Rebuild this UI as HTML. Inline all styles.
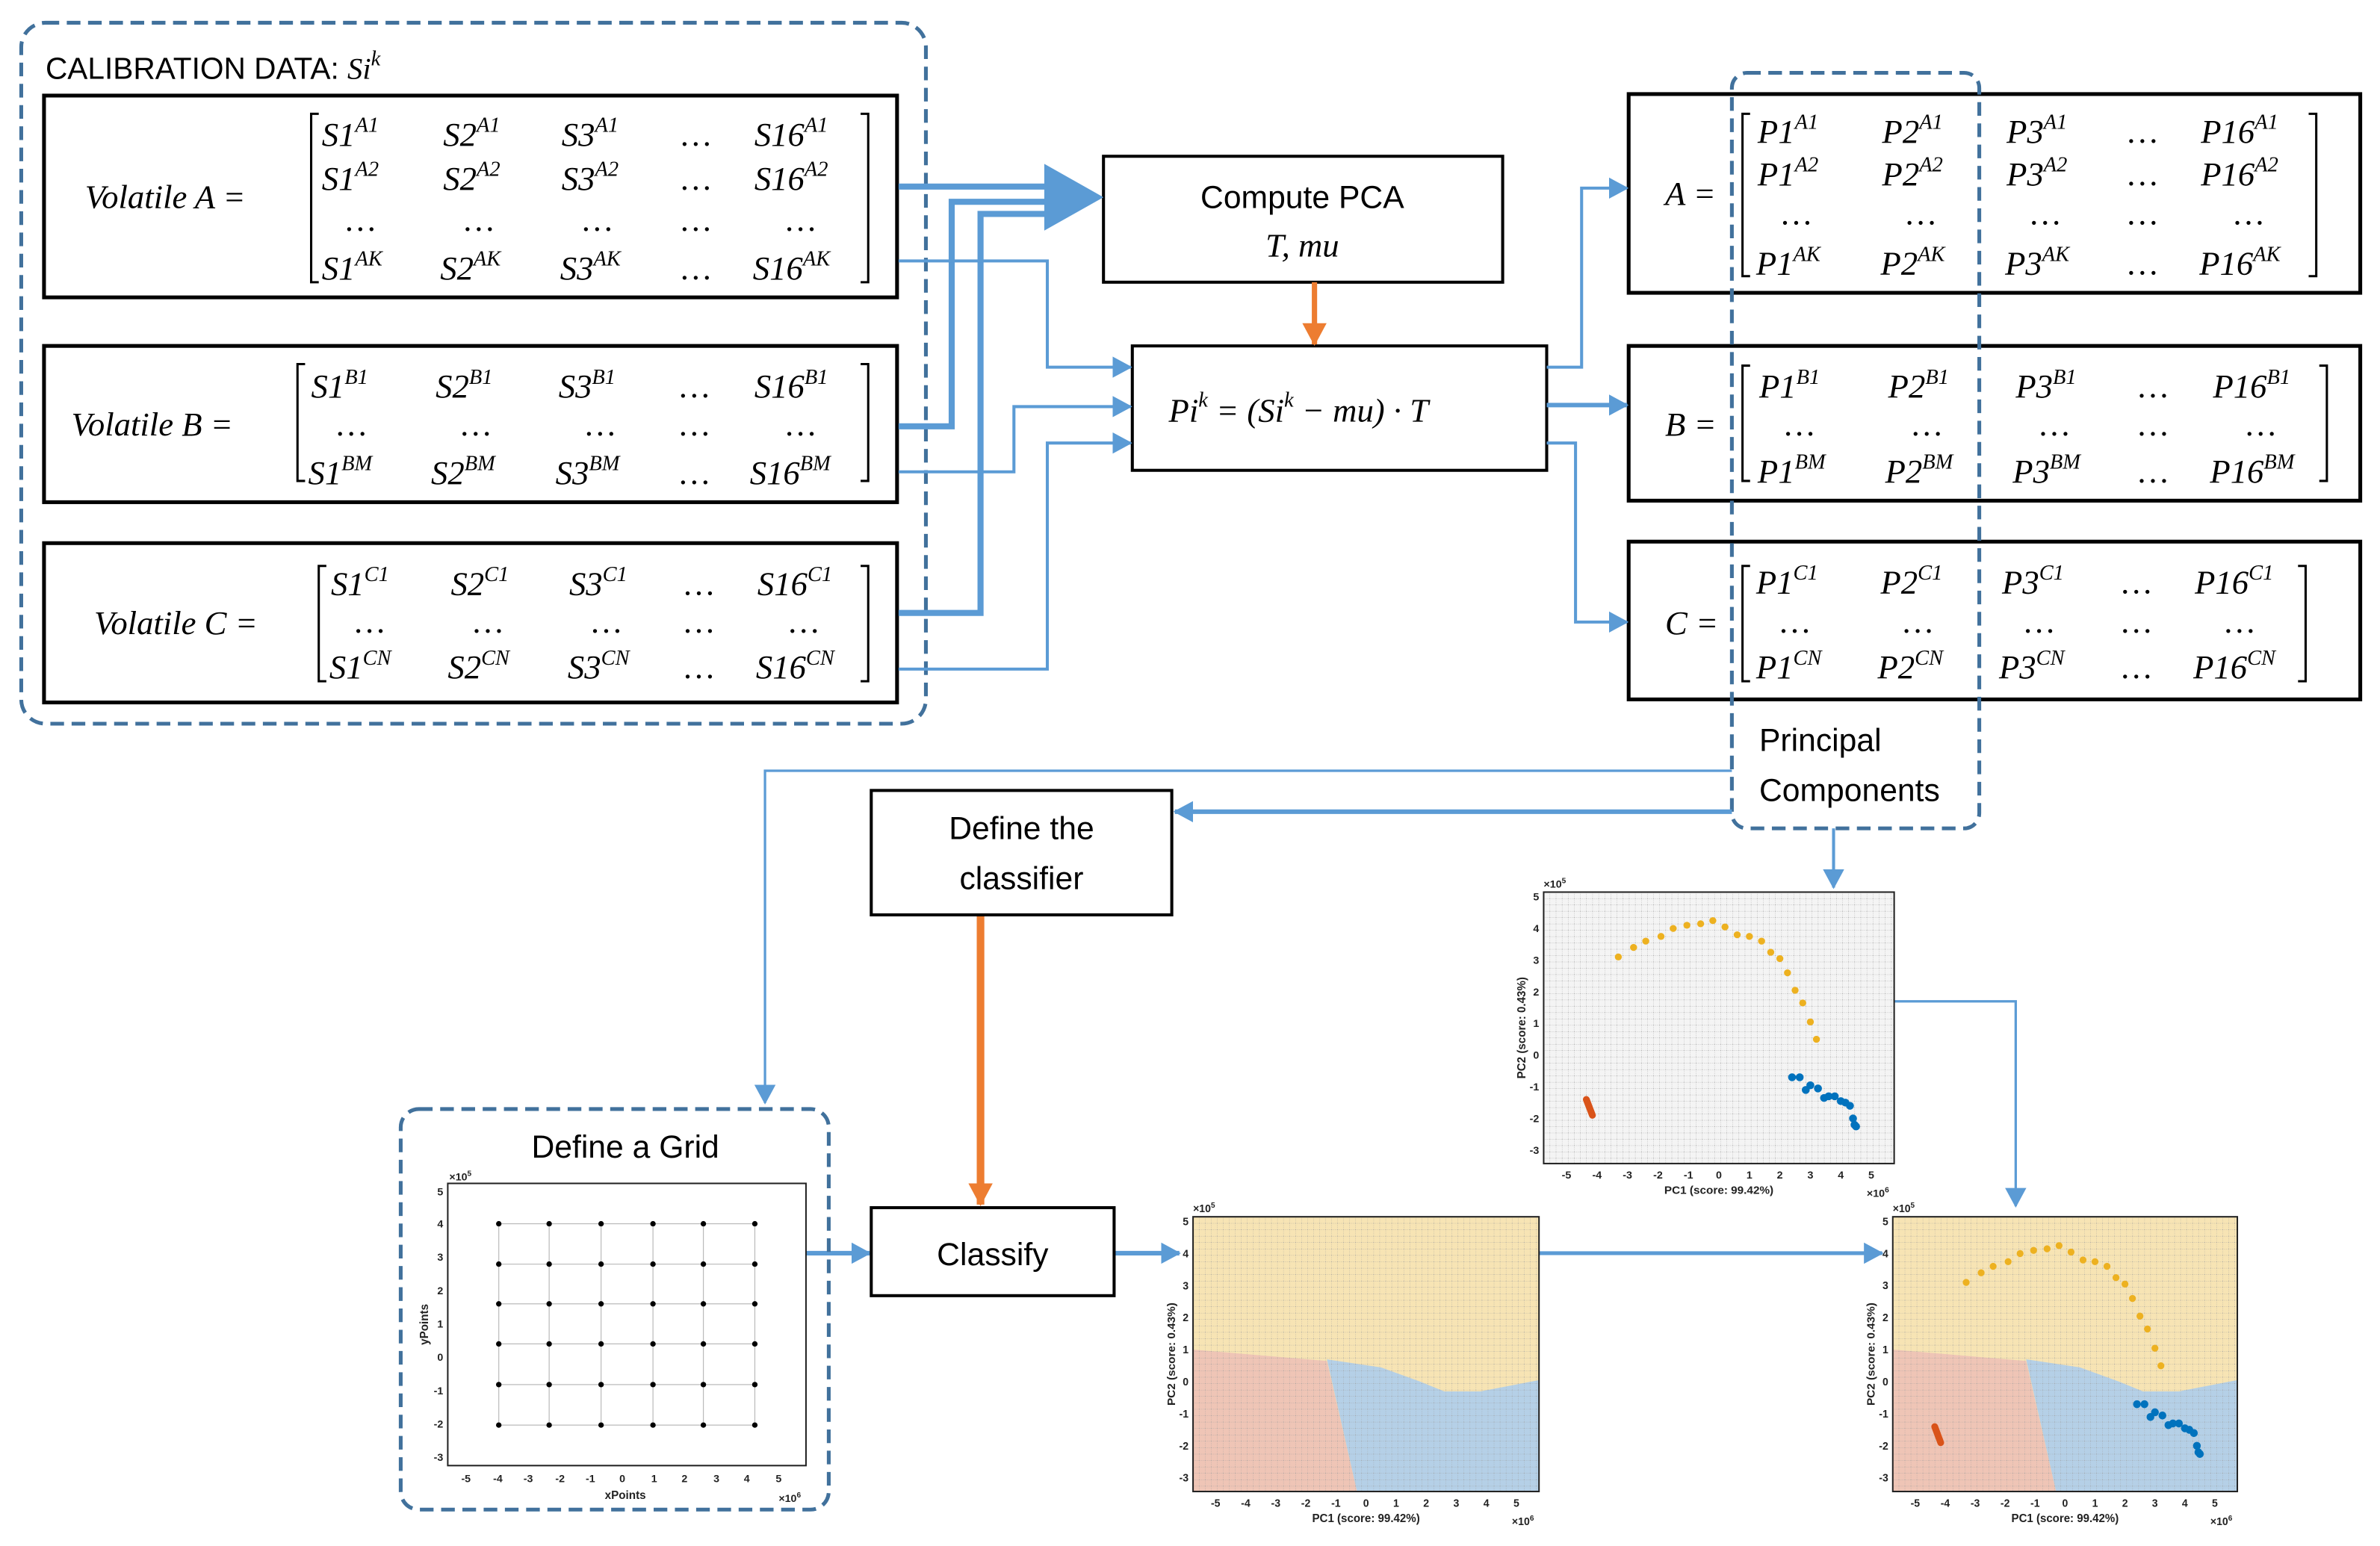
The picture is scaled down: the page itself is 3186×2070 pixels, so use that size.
<!DOCTYPE html>
<html><head><meta charset="utf-8"><style>
html,body{margin:0;padding:0;background:#fff;}
svg{display:block}
.m{font-family:"Liberation Serif",serif;font-style:italic;font-size:22px;fill:#000}
.s{font-size:14px}
.c{font-family:"Liberation Sans",sans-serif;fill:#000}
.tk{font-family:"Liberation Sans",sans-serif;font-size:7px;fill:#222;font-weight:bold}
.lb{font-family:"Liberation Sans",sans-serif;font-size:7.5px;fill:#222;font-weight:bold}
</style></head><body>
<svg width="3186" height="2070" viewBox="0 0 1568 1019" preserveAspectRatio="none" xmlns="http://www.w3.org/2000/svg">
<defs>
<marker id="ab" markerUnits="userSpaceOnUse" markerWidth="14" markerHeight="14" refX="12" refY="7" orient="auto"><path d="M0,0 L13,7 L0,14 Z" fill="#5b9bd5"/></marker>
<marker id="ao" markerUnits="userSpaceOnUse" markerWidth="16" markerHeight="16" refX="14" refY="8" orient="auto"><path d="M0,0 L15,8 L0,16 Z" fill="#ed7d31"/></marker>
<pattern id="gp" patternUnits="userSpaceOnUse" width="4" height="4.2"><path d="M0,0 H4 M0,0 V4.2" stroke="#9a9a9a" stroke-width="0.35" stroke-dasharray="0.6 0.6" fill="none"/></pattern>
</defs>
<rect width="1568" height="1019" fill="#fff"/>

<!-- calibration dashed box -->
<rect x="14" y="15" width="596" height="462" rx="16" fill="none" stroke="#41719c" stroke-width="2.5" stroke-dasharray="9 5"/>
<text x="30" y="52" class="c" font-size="20">CALIBRATION DATA: <tspan font-family="Liberation Serif" font-style="italic">Si</tspan><tspan font-family="Liberation Serif" font-style="italic" font-size="14" dy="-9">k</tspan></text>

<g fill="none" stroke="#000" stroke-width="2.5">
<rect x="29" y="63" width="562" height="133"/>
<rect x="29" y="228" width="562" height="103"/>
<rect x="29" y="358" width="562" height="105"/>
<rect x="1073" y="62" width="482" height="131"/>
<rect x="1073" y="228" width="482" height="102"/>
<rect x="1073" y="357" width="482" height="104"/>
</g>
<g fill="none" stroke="#000" stroke-width="1.5">
<path d="M210,75 H205 V186 H210"/><path d="M567,75 H572 V186 H567"/>
<path d="M201,240 H196 V317 H201"/><path d="M567,240 H572 V317 H567"/>
<path d="M215,373 H210 V449 H215"/><path d="M567,373 H572 V449 H567"/>
<path d="M1153,75 H1148 V182 H1153"/><path d="M1521,75 H1526 V182 H1521"/>
<path d="M1153,241 H1148 V317 H1153"/><path d="M1528,241 H1533 V317 H1528"/>
<path d="M1153,373 H1148 V449 H1153"/><path d="M1514,373 H1519 V449 H1514"/>
</g>

<!-- Volatile A -->
<text x="56" y="137" class="m">Volatile A =</text>
<text class="m" y="96"><tspan x="212">S1</tspan><tspan class="s" dy="-9">A1</tspan><tspan x="292" dy="9">S2</tspan><tspan class="s" dy="-9">A1</tspan><tspan x="370" dy="9">S3</tspan><tspan class="s" dy="-9">A1</tspan><tspan x="449" dy="9">…</tspan><tspan x="497">S16</tspan><tspan class="s" dy="-9">A1</tspan></text>
<text class="m" y="125"><tspan x="212">S1</tspan><tspan class="s" dy="-9">A2</tspan><tspan x="292" dy="9">S2</tspan><tspan class="s" dy="-9">A2</tspan><tspan x="370" dy="9">S3</tspan><tspan class="s" dy="-9">A2</tspan><tspan x="449" dy="9">…</tspan><tspan x="497">S16</tspan><tspan class="s" dy="-9">A2</tspan></text>
<text class="m" y="152"><tspan x="228">…</tspan><tspan x="306">…</tspan><tspan x="384">…</tspan><tspan x="449">…</tspan><tspan x="518">…</tspan></text>
<text class="m" y="184"><tspan x="212">S1</tspan><tspan class="s" dy="-9">AK</tspan><tspan x="290" dy="9">S2</tspan><tspan class="s" dy="-9">AK</tspan><tspan x="369" dy="9">S3</tspan><tspan class="s" dy="-9">AK</tspan><tspan x="449" dy="9">…</tspan><tspan x="496">S16</tspan><tspan class="s" dy="-9">AK</tspan></text>

<!-- Volatile B -->
<text x="47" y="287" class="m">Volatile B =</text>
<text class="m" y="262"><tspan x="205">S1</tspan><tspan class="s" dy="-9">B1</tspan><tspan x="287" dy="9">S2</tspan><tspan class="s" dy="-9">B1</tspan><tspan x="368" dy="9">S3</tspan><tspan class="s" dy="-9">B1</tspan><tspan x="448" dy="9">…</tspan><tspan x="497">S16</tspan><tspan class="s" dy="-9">B1</tspan></text>
<text class="m" y="287"><tspan x="222">…</tspan><tspan x="304">…</tspan><tspan x="386">…</tspan><tspan x="448">…</tspan><tspan x="518">…</tspan></text>
<text class="m" y="319"><tspan x="203">S1</tspan><tspan class="s" dy="-9">BM</tspan><tspan x="284" dy="9">S2</tspan><tspan class="s" dy="-9">BM</tspan><tspan x="366" dy="9">S3</tspan><tspan class="s" dy="-9">BM</tspan><tspan x="448" dy="9">…</tspan><tspan x="494">S16</tspan><tspan class="s" dy="-9">BM</tspan></text>

<!-- Volatile C -->
<text x="62" y="418" class="m">Volatile C =</text>
<text class="m" y="392"><tspan x="218">S1</tspan><tspan class="s" dy="-9">C1</tspan><tspan x="297" dy="9">S2</tspan><tspan class="s" dy="-9">C1</tspan><tspan x="375" dy="9">S3</tspan><tspan class="s" dy="-9">C1</tspan><tspan x="451" dy="9">…</tspan><tspan x="499">S16</tspan><tspan class="s" dy="-9">C1</tspan></text>
<text class="m" y="417"><tspan x="234">…</tspan><tspan x="312">…</tspan><tspan x="390">…</tspan><tspan x="451">…</tspan><tspan x="520">…</tspan></text>
<text class="m" y="447"><tspan x="217">S1</tspan><tspan class="s" dy="-9">CN</tspan><tspan x="295" dy="9">S2</tspan><tspan class="s" dy="-9">CN</tspan><tspan x="374" dy="9">S3</tspan><tspan class="s" dy="-9">CN</tspan><tspan x="451" dy="9">…</tspan><tspan x="498">S16</tspan><tspan class="s" dy="-9">CN</tspan></text>

<!-- Right A -->
<text x="1097" y="135" class="m">A =</text>
<text class="m" y="94"><tspan x="1158">P1</tspan><tspan class="s" dy="-9">A1</tspan><tspan x="1240" dy="9">P2</tspan><tspan class="s" dy="-9">A1</tspan><tspan x="1322" dy="9">P3</tspan><tspan class="s" dy="-9">A1</tspan><tspan x="1402" dy="9">…</tspan><tspan x="1450">P16</tspan><tspan class="s" dy="-9">A1</tspan></text>
<text class="m" y="122"><tspan x="1158">P1</tspan><tspan class="s" dy="-9">A2</tspan><tspan x="1240" dy="9">P2</tspan><tspan class="s" dy="-9">A2</tspan><tspan x="1322" dy="9">P3</tspan><tspan class="s" dy="-9">A2</tspan><tspan x="1402" dy="9">…</tspan><tspan x="1450">P16</tspan><tspan class="s" dy="-9">A2</tspan></text>
<text class="m" y="148"><tspan x="1174">…</tspan><tspan x="1256">…</tspan><tspan x="1338">…</tspan><tspan x="1402">…</tspan><tspan x="1472">…</tspan></text>
<text class="m" y="181"><tspan x="1157">P1</tspan><tspan class="s" dy="-9">AK</tspan><tspan x="1239" dy="9">P2</tspan><tspan class="s" dy="-9">AK</tspan><tspan x="1321" dy="9">P3</tspan><tspan class="s" dy="-9">AK</tspan><tspan x="1402" dy="9">…</tspan><tspan x="1449">P16</tspan><tspan class="s" dy="-9">AK</tspan></text>

<!-- Right B -->
<text x="1097" y="287" class="m">B =</text>
<text class="m" y="262"><tspan x="1159">P1</tspan><tspan class="s" dy="-9">B1</tspan><tspan x="1244" dy="9">P2</tspan><tspan class="s" dy="-9">B1</tspan><tspan x="1328" dy="9">P3</tspan><tspan class="s" dy="-9">B1</tspan><tspan x="1409" dy="9">…</tspan><tspan x="1458">P16</tspan><tspan class="s" dy="-9">B1</tspan></text>
<text class="m" y="287"><tspan x="1176">…</tspan><tspan x="1260">…</tspan><tspan x="1344">…</tspan><tspan x="1409">…</tspan><tspan x="1480">…</tspan></text>
<text class="m" y="318"><tspan x="1158">P1</tspan><tspan class="s" dy="-9">BM</tspan><tspan x="1242" dy="9">P2</tspan><tspan class="s" dy="-9">BM</tspan><tspan x="1326" dy="9">P3</tspan><tspan class="s" dy="-9">BM</tspan><tspan x="1409" dy="9">…</tspan><tspan x="1456">P16</tspan><tspan class="s" dy="-9">BM</tspan></text>

<!-- Right C -->
<text x="1097" y="418" class="m">C =</text>
<text class="m" y="391"><tspan x="1157">P1</tspan><tspan class="s" dy="-9">C1</tspan><tspan x="1239" dy="9">P2</tspan><tspan class="s" dy="-9">C1</tspan><tspan x="1319" dy="9">P3</tspan><tspan class="s" dy="-9">C1</tspan><tspan x="1398" dy="9">…</tspan><tspan x="1446">P16</tspan><tspan class="s" dy="-9">C1</tspan></text>
<text class="m" y="417"><tspan x="1173">…</tspan><tspan x="1254">…</tspan><tspan x="1334">…</tspan><tspan x="1398">…</tspan><tspan x="1466">…</tspan></text>
<text class="m" y="447"><tspan x="1157">P1</tspan><tspan class="s" dy="-9">CN</tspan><tspan x="1237" dy="9">P2</tspan><tspan class="s" dy="-9">CN</tspan><tspan x="1317" dy="9">P3</tspan><tspan class="s" dy="-9">CN</tspan><tspan x="1398" dy="9">…</tspan><tspan x="1445">P16</tspan><tspan class="s" dy="-9">CN</tspan></text>

<!-- Principal components dashed -->
<rect x="1141" y="48" width="163" height="498" rx="10" fill="none" stroke="#41719c" stroke-width="2.5" stroke-dasharray="9 5"/>
<text x="1159" y="495" class="c" font-size="21">Principal</text>
<text x="1159" y="528" class="c" font-size="21">Components</text>

<!-- Compute PCA and Pi boxes -->
<rect x="727" y="103" width="263" height="83" fill="#fff" stroke="#000" stroke-width="2"/>
<text x="858" y="137" class="c" font-size="21" text-anchor="middle">Compute PCA</text>
<text x="858" y="169" class="m" text-anchor="middle">T, mu</text>
<rect x="746" y="228" width="273" height="82" fill="#fff" stroke="#000" stroke-width="2"/>
<text x="770" y="278" class="m">Pi<tspan class="s" dy="-10">k</tspan><tspan dy="10"> = (Si</tspan><tspan class="s" dy="-10">k</tspan><tspan dy="10"> − mu) · T</tspan></text>
<line x1="866" y1="186" x2="866" y2="227" stroke="#ed7d31" stroke-width="3.5" marker-end="url(#ao)"/>

<!-- thick input arrows -->
<g fill="none" stroke="#5b9bd5" stroke-width="4">
<path d="M592,123 H700"/>
<path d="M592,281 H627 V133 H700"/>
<path d="M592,404 H646 V141 H700"/>
</g>
<path d="M688,108 L727,130 L688,152 Z" fill="#5b9bd5"/>
<!-- thin input arrows -->
<g fill="none" stroke="#5b9bd5" stroke-width="2">
<path d="M592,172 H690 V242 H745" marker-end="url(#ab)"/>
<path d="M592,311 H668 V268 H745" marker-end="url(#ab)"/>
<path d="M592,441 H690 V292 H745" marker-end="url(#ab)"/>
<path d="M1019,242 H1042 V124 H1072" marker-end="url(#ab)"/>
<path d="M1019,292 H1038 V410 H1072" marker-end="url(#ab)"/>
</g>
<line x1="1019" y1="267" x2="1072" y2="267" stroke="#5b9bd5" stroke-width="3" marker-end="url(#ab)"/>

<!-- lower connectors -->
<g fill="none" stroke="#5b9bd5">
<path d="M1141,508 H504 V727" stroke-width="1.6" marker-end="url(#ab)"/>
<path d="M1141,535 H774" stroke-width="3" marker-end="url(#ab)"/>
<path d="M1208,546 V585" stroke-width="2" marker-end="url(#ab)"/>
<path d="M1240,660 H1328 V795" stroke-width="1.6" marker-end="url(#ab)"/>
<path d="M530,826 H573" stroke-width="3" marker-end="url(#ab)"/>
<path d="M734,826 H777" stroke-width="3" marker-end="url(#ab)"/>
<path d="M1014,826 H1240" stroke-width="2.5" marker-end="url(#ab)"/>
</g>
<line x1="646" y1="603" x2="646" y2="794" stroke="#ed7d31" stroke-width="5" marker-end="url(#ao)"/>

<rect x="574" y="521" width="198" height="82" fill="#fff" stroke="#000" stroke-width="2"/>
<text x="673" y="553" class="c" font-size="21" text-anchor="middle">Define the</text>
<text x="673" y="586" class="c" font-size="21" text-anchor="middle">classifier</text>
<rect x="574" y="796" width="160" height="58" fill="#fff" stroke="#000" stroke-width="2"/>
<text x="654" y="834" class="c" font-size="21" text-anchor="middle">Classify</text>

<!-- Define a Grid -->
<rect x="264" y="731" width="282" height="264" rx="12" fill="none" stroke="#41719c" stroke-width="2.5" stroke-dasharray="9 5"/>
<text x="412" y="763" class="c" font-size="21" text-anchor="middle" fill="#333">Define a Grid</text>
<g>
<rect x="295" y="780" width="236" height="186" fill="#fff" stroke="#222" stroke-width="1"/>
<g stroke="#bbb" stroke-width="0.6">
<path d="M328.6,806.6 V939.3 M361.8,806.6 V939.3 M396,806.6 V939.3 M430.2,806.6 V939.3 M463.4,806.6 V939.3 M497.3,806.6 V939.3"/>
<path d="M328.6,806.6 H497.3 M328.6,833.2 H497.3 M328.6,859.4 H497.3 M328.6,885.8 H497.3 M328.6,912.6 H497.3 M328.6,939.3 H497.3"/>
</g>
<g fill="#000">
<circle cx="328.6" cy="806.6" r="1.8"/><circle cx="361.8" cy="806.6" r="1.8"/><circle cx="396" cy="806.6" r="1.8"/><circle cx="430.2" cy="806.6" r="1.8"/><circle cx="463.4" cy="806.6" r="1.8"/><circle cx="497.3" cy="806.6" r="1.8"/>
<circle cx="328.6" cy="833.2" r="1.8"/><circle cx="361.8" cy="833.2" r="1.8"/><circle cx="396" cy="833.2" r="1.8"/><circle cx="430.2" cy="833.2" r="1.8"/><circle cx="463.4" cy="833.2" r="1.8"/><circle cx="497.3" cy="833.2" r="1.8"/>
<circle cx="328.6" cy="859.4" r="1.8"/><circle cx="361.8" cy="859.4" r="1.8"/><circle cx="396" cy="859.4" r="1.8"/><circle cx="430.2" cy="859.4" r="1.8"/><circle cx="463.4" cy="859.4" r="1.8"/><circle cx="497.3" cy="859.4" r="1.8"/>
<circle cx="328.6" cy="885.8" r="1.8"/><circle cx="361.8" cy="885.8" r="1.8"/><circle cx="396" cy="885.8" r="1.8"/><circle cx="430.2" cy="885.8" r="1.8"/><circle cx="463.4" cy="885.8" r="1.8"/><circle cx="497.3" cy="885.8" r="1.8"/>
<circle cx="328.6" cy="912.6" r="1.8"/><circle cx="361.8" cy="912.6" r="1.8"/><circle cx="396" cy="912.6" r="1.8"/><circle cx="430.2" cy="912.6" r="1.8"/><circle cx="463.4" cy="912.6" r="1.8"/><circle cx="497.3" cy="912.6" r="1.8"/>
<circle cx="328.6" cy="939.3" r="1.8"/><circle cx="361.8" cy="939.3" r="1.8"/><circle cx="396" cy="939.3" r="1.8"/><circle cx="430.2" cy="939.3" r="1.8"/><circle cx="463.4" cy="939.3" r="1.8"/><circle cx="497.3" cy="939.3" r="1.8"/>
</g>
<g class="tk" text-anchor="middle">
<text x="307" y="977">-5</text><text x="328" y="977">-4</text><text x="348" y="977">-3</text><text x="369" y="977">-2</text><text x="389" y="977">-1</text><text x="410" y="977">0</text><text x="431" y="977">1</text><text x="451" y="977">2</text><text x="472" y="977">3</text><text x="492" y="977">4</text><text x="513" y="977">5</text>
</g>
<g class="tk" text-anchor="end">
<text x="292" y="788">5</text><text x="292" y="809">4</text><text x="292" y="831">3</text><text x="292" y="853">2</text><text x="292" y="875">1</text><text x="292" y="897">0</text><text x="292" y="919">-1</text><text x="292" y="941">-2</text><text x="292" y="963">-3</text>
</g>
<text x="412" y="988" class="lb" text-anchor="middle">xPoints</text>
<text x="282" y="873" class="lb" text-anchor="middle" transform="rotate(-90 282 873)">yPoints</text>
<text x="296" y="778" class="tk">×10<tspan font-size="5" dy="-3">5</tspan></text>
<text x="513" y="990" class="tk">×10<tspan font-size="5" dy="-3">6</tspan></text>
</g>

<!-- Top scatter plot -->
<g transform="translate(1017,588) scale(1.004,0.994)">
<rect width="230" height="180" fill="#f4f4f4"/>
<rect width="230" height="180" fill="url(#gp)"/>
<g fill="#edb120">
<circle cx="49" cy="43" r="2.3"/><circle cx="59" cy="36.7" r="2.3"/><circle cx="67" cy="32.5" r="2.3"/><circle cx="77" cy="29.4" r="2.3"/><circle cx="85" cy="24.1" r="2.3"/><circle cx="94" cy="22" r="2.3"/><circle cx="103" cy="21" r="2.3"/><circle cx="111" cy="18.9" r="2.3"/><circle cx="119" cy="23.1" r="2.3"/><circle cx="127" cy="28.3" r="2.3"/><circle cx="135" cy="29.4" r="2.3"/><circle cx="143" cy="32.5" r="2.3"/><circle cx="149" cy="39.9" r="2.3"/><circle cx="155" cy="44.1" r="2.3"/><circle cx="160" cy="53.5" r="2.3"/><circle cx="165" cy="65.1" r="2.3"/><circle cx="170" cy="73.5" r="2.3"/><circle cx="175" cy="86.1" r="2.3"/><circle cx="179" cy="97.6" r="2.3"/>
</g>
<g fill="#0072bd">
<circle cx="163" cy="122.8" r="2.6"/><circle cx="168" cy="122.8" r="2.6"/><circle cx="172" cy="131.2" r="2.6"/><circle cx="175" cy="128.1" r="2.6"/><circle cx="180" cy="130.2" r="2.6"/><circle cx="184" cy="136.5" r="2.6"/><circle cx="187" cy="135.4" r="2.6"/><circle cx="191" cy="135.4" r="2.6"/><circle cx="195" cy="138.6" r="2.6"/><circle cx="198" cy="139.6" r="2.6"/><circle cx="201" cy="141.7" r="2.6"/><circle cx="203" cy="150.1" r="2.6"/><circle cx="204" cy="154.3" r="2.6"/><circle cx="205" cy="155.4" r="2.6"/>
</g>
<line x1="28" y1="137.5" x2="32" y2="148" stroke="#d95319" stroke-width="4.5" stroke-linecap="round"/>
<rect width="230" height="180" fill="none" stroke="#222" stroke-width="1"/>
<g class="tk" text-anchor="middle"><text x="15" y="190">-5</text><text x="35" y="190">-4</text><text x="55" y="190">-3</text><text x="75" y="190">-2</text><text x="95" y="190">-1</text><text x="115" y="190">0</text><text x="135" y="190">1</text><text x="155" y="190">2</text><text x="175" y="190">3</text><text x="195" y="190">4</text><text x="215" y="190">5</text></g>
<g class="tk" text-anchor="end"><text x="-3" y="5.5">5</text><text x="-3" y="26.5">4</text><text x="-3" y="47.5">3</text><text x="-3" y="68.5">2</text><text x="-3" y="89.5">1</text><text x="-3" y="110.5">0</text><text x="-3" y="131.5">-1</text><text x="-3" y="152.5">-2</text><text x="-3" y="173.5">-3</text></g>
<text x="115" y="200" class="lb" text-anchor="middle">PC1 (score: 99.42%)</text>
<text x="-12" y="90" class="lb" text-anchor="middle" transform="rotate(-90 -12 90)">PC2 (score: 0.43%)</text>
<text x="0" y="-3" class="tk">×10<tspan font-size="5" dy="-3">5</tspan></text>
<text x="212" y="202" class="tk">×10<tspan font-size="5" dy="-3">6</tspan></text>
</g>

<!-- Middle classified plot -->
<g transform="translate(786,802) scale(0.991,1.006)">
<rect width="230" height="180" fill="#f7e4b4"/>
<polygon points="0,87 89,94.5 109,180 0,180" fill="#efc5b6"/>
<polygon points="89,93.4 125,98.7 151,108 167,114.4 191,114.4 230,107 230,180 109,180" fill="#b5d0e7"/>
<rect width="230" height="180" fill="url(#gp)"/>
<rect width="230" height="180" fill="none" stroke="#222" stroke-width="1"/>
<g class="tk" text-anchor="middle"><text x="15" y="190">-5</text><text x="35" y="190">-4</text><text x="55" y="190">-3</text><text x="75" y="190">-2</text><text x="95" y="190">-1</text><text x="115" y="190">0</text><text x="135" y="190">1</text><text x="155" y="190">2</text><text x="175" y="190">3</text><text x="195" y="190">4</text><text x="215" y="190">5</text></g>
<g class="tk" text-anchor="end"><text x="-3" y="5.5">5</text><text x="-3" y="26.5">4</text><text x="-3" y="47.5">3</text><text x="-3" y="68.5">2</text><text x="-3" y="89.5">1</text><text x="-3" y="110.5">0</text><text x="-3" y="131.5">-1</text><text x="-3" y="152.5">-2</text><text x="-3" y="173.5">-3</text></g>
<text x="115" y="200" class="lb" text-anchor="middle">PC1 (score: 99.42%)</text>
<text x="-12" y="90" class="lb" text-anchor="middle" transform="rotate(-90 -12 90)">PC2 (score: 0.43%)</text>
<text x="0" y="-3" class="tk">×10<tspan font-size="5" dy="-3">5</tspan></text>
<text x="212" y="202" class="tk">×10<tspan font-size="5" dy="-3">6</tspan></text>
</g>

<!-- Right classified plot -->
<g transform="translate(1247,802) scale(0.987,1.006)">
<rect width="230" height="180" fill="#f7e4b4"/>
<polygon points="0,87 89,94.5 109,180 0,180" fill="#efc5b6"/>
<polygon points="89,93.4 125,98.7 151,108 167,114.4 191,114.4 230,107 230,180 109,180" fill="#b5d0e7"/>
<rect width="230" height="180" fill="url(#gp)"/>
<g fill="#edb120">
<circle cx="49" cy="43" r="2.3"/><circle cx="59" cy="36.7" r="2.3"/><circle cx="67" cy="32.5" r="2.3"/><circle cx="77" cy="29.4" r="2.3"/><circle cx="85" cy="24.1" r="2.3"/><circle cx="94" cy="22" r="2.3"/><circle cx="103" cy="21" r="2.3"/><circle cx="111" cy="18.9" r="2.3"/><circle cx="119" cy="23.1" r="2.3"/><circle cx="127" cy="28.3" r="2.3"/><circle cx="135" cy="29.4" r="2.3"/><circle cx="143" cy="32.5" r="2.3"/><circle cx="149" cy="39.9" r="2.3"/><circle cx="155" cy="44.1" r="2.3"/><circle cx="160" cy="53.5" r="2.3"/><circle cx="165" cy="65.1" r="2.3"/><circle cx="170" cy="73.5" r="2.3"/><circle cx="175" cy="86.1" r="2.3"/><circle cx="179" cy="97.6" r="2.3"/>
</g>
<g fill="#0072bd">
<circle cx="163" cy="122.8" r="2.6"/><circle cx="168" cy="122.8" r="2.6"/><circle cx="172" cy="131.2" r="2.6"/><circle cx="175" cy="128.1" r="2.6"/><circle cx="180" cy="130.2" r="2.6"/><circle cx="184" cy="136.5" r="2.6"/><circle cx="187" cy="135.4" r="2.6"/><circle cx="191" cy="135.4" r="2.6"/><circle cx="195" cy="138.6" r="2.6"/><circle cx="198" cy="139.6" r="2.6"/><circle cx="201" cy="141.7" r="2.6"/><circle cx="203" cy="150.1" r="2.6"/><circle cx="204" cy="154.3" r="2.6"/><circle cx="205" cy="155.4" r="2.6"/>
</g>
<line x1="28" y1="137.5" x2="32" y2="148" stroke="#d95319" stroke-width="4.5" stroke-linecap="round"/>
<rect width="230" height="180" fill="none" stroke="#222" stroke-width="1"/>
<g class="tk" text-anchor="middle"><text x="15" y="190">-5</text><text x="35" y="190">-4</text><text x="55" y="190">-3</text><text x="75" y="190">-2</text><text x="95" y="190">-1</text><text x="115" y="190">0</text><text x="135" y="190">1</text><text x="155" y="190">2</text><text x="175" y="190">3</text><text x="195" y="190">4</text><text x="215" y="190">5</text></g>
<g class="tk" text-anchor="end"><text x="-3" y="5.5">5</text><text x="-3" y="26.5">4</text><text x="-3" y="47.5">3</text><text x="-3" y="68.5">2</text><text x="-3" y="89.5">1</text><text x="-3" y="110.5">0</text><text x="-3" y="131.5">-1</text><text x="-3" y="152.5">-2</text><text x="-3" y="173.5">-3</text></g>
<text x="115" y="200" class="lb" text-anchor="middle">PC1 (score: 99.42%)</text>
<text x="-12" y="90" class="lb" text-anchor="middle" transform="rotate(-90 -12 90)">PC2 (score: 0.43%)</text>
<text x="0" y="-3" class="tk">×10<tspan font-size="5" dy="-3">5</tspan></text>
<text x="212" y="202" class="tk">×10<tspan font-size="5" dy="-3">6</tspan></text>
</g>
</svg>
</body></html>
